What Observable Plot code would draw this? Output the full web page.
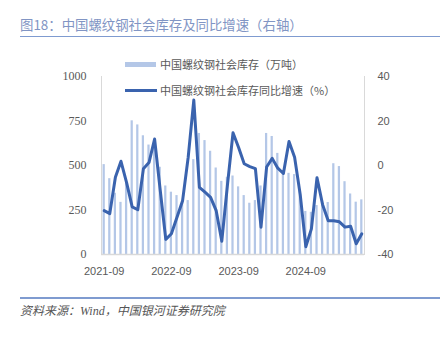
<!DOCTYPE html>
<html><head><meta charset="utf-8">
<script src="https://cdn.jsdelivr.net/npm/d3@7"></script>
<script src="https://cdn.jsdelivr.net/npm/@observablehq/plot@0.6"></script>
<style>
body{margin:0;background:#fff;}
#wrap{position:relative;width:442px;height:338px;overflow:hidden;font-family:"Noto Sans CJK SC",sans-serif;background:#fff;}
#chart{position:absolute;left:0;top:0;}
#title{position:absolute;left:20px;top:15px;font-size:13.4px;line-height:18px;color:#8195c4;white-space:nowrap;}
.rule{position:absolute;left:20px;width:420px;height:1.5px;background:#7f9bd0;}
.leg{position:absolute;left:125px;font-size:11px;line-height:14px;color:#595959;white-space:nowrap;}
.leg .sw{position:absolute;left:0;}
.leg span.t{position:absolute;left:35px;top:0;}
#source{position:absolute;left:20px;top:303px;font-size:12px;line-height:16px;color:#555;font-style:italic;white-space:nowrap;font-family:"Liberation Serif","Noto Sans CJK SC",serif;}
</style></head><body><div id="wrap">
<div id="title">图18：中国螺纹钢社会库存及同比增速（右轴）</div>
<div class="rule" style="top:35.5px"></div>
<div id="chart"></div>
<div class="leg" style="top:57px;width:200px;height:14px;"><div class="sw" style="top:4.5px;width:31px;height:5px;background:#b4c7e7"></div><span class="t">中国螺纹钢社会库存（万吨）</span></div>
<div class="leg" style="top:83px;width:240px;height:14px;"><div class="sw" style="top:6px;width:32px;height:3px;background:#3a63ae"></div><span class="t">中国螺纹钢社会库存同比增速（%）</span></div>
<div class="rule" style="top:297px"></div>
<div id="source">资料来源：Wind，中国银河证券研究院</div>
</div>
<script>
const months = ["2021-09","2021-10","2021-11","2021-12","2022-01","2022-02","2022-03","2022-04","2022-05","2022-06","2022-07","2022-08",
"2022-09","2022-10","2022-11","2022-12","2023-01","2023-02","2023-03","2023-04","2023-05","2023-06","2023-07","2023-08",
"2023-09","2023-10","2023-11","2023-12","2024-01","2024-02","2024-03","2024-04","2024-05","2024-06","2024-07","2024-08",
"2024-09","2024-10","2024-11","2024-12","2025-01","2025-02","2025-03","2025-04","2025-05","2025-06","2025-07"];
const inventory = [505,426,344,293,405,751,728,667,615,625,490,385,
350,331,290,303,533,680,640,580,486,411,434,441,
380,331,288,303,385,680,663,568,472,456,449,365,
242,237,275,287,292,510,494,409,340,294,307];
const yoy = [-20.3,-21.6,-5.3,1.9,-7.7,-18.6,-19.9,-1.5,1.3,11.9,-11,-33.2,
-30.7,-23.3,-15.8,3.7,29.4,-9.8,-12,-14.3,-20.3,-34,-9,14.7,
8.1,0.8,-0.5,-1.4,-27.7,-0.7,3.2,-1.2,-3.6,10.8,3.7,-13,
-36.5,-28.5,-5.5,-17.6,-24.8,-24.8,-25.3,-27.7,-27.3,-35.2,-30.7];
const xTicks = ["2021-09","2022-09","2023-09","2024-09"];
const leftTicks = [0,250,500,750,1000];
const rightTicks = [-40,-20,0,20,40];

const data = months.map((m,i)=>({month:m, inv:inventory[i], yoy:yoy[i]}));
// right axis [-40,40] shares the left scale [0,1000]
const toLeft = v => (v + 40) * 12.5;
const fromLeft = v => Math.round(v / 12.5 - 40);

const chart = Plot.plot({
  width:442, height:338,
  marginTop:76, marginBottom:84, marginLeft:101, marginRight:78,
  style:{background:"transparent", color:"#595959", overflow:"visible"},
  x:{type:"band", domain:months, paddingInner:0.6, paddingOuter:0.28, round:false},
  y:{domain:[0,1000]},
  marks:[
    Plot.frame({anchor:"left", stroke:"#d9d9d9"}),
    Plot.frame({anchor:"right", stroke:"#d9d9d9"}),
    Plot.barY(data,{x:"month", y:"inv", fill:"#b4c7e7"}),
    Plot.ruleY([0],{stroke:"#d9d9d9", strokeWidth:1.5}),
    Plot.lineY(data,{x:"month", y:d=>toLeft(d.yoy), stroke:"#3a63ae", strokeWidth:3, strokeLinejoin:"round", curve:"linear"}),
    Plot.axisX({ticks:xTicks, tickSize:0, tickPadding:13, label:null, fontSize:11, fontFamily:"Liberation Sans"}),
    Plot.axisY({anchor:"left", ticks:leftTicks, tickFormat:d=>String(d), tickSize:0, tickPadding:15, label:null, fontSize:12, fontFamily:"Liberation Serif"}),
    Plot.axisY({anchor:"right", ticks:rightTicks.map(toLeft), tickFormat:d=>String(fromLeft(d)), tickSize:0, tickPadding:13, label:null, fontSize:11, fontFamily:"Liberation Sans"})
  ]
});
document.getElementById("chart").appendChild(chart);
</script>
</body></html>
